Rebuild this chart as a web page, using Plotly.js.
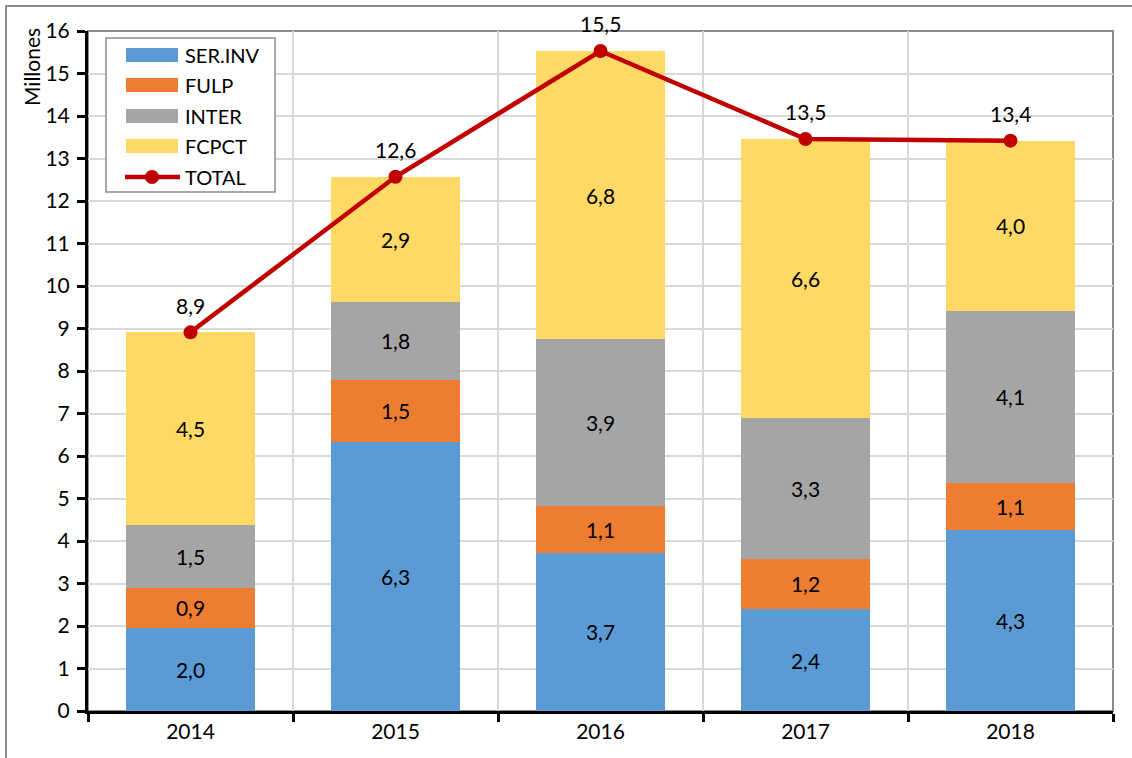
<!DOCTYPE html>
<html>
<head>
<meta charset="utf-8">
<script src="https://cdn.plot.ly/plotly-3.0.1.min.js"></script>
<style>
  html, body { margin: 0; padding: 0; background: #fff; overflow: hidden; }
  #wrap { position: relative; width: 1132px; height: 758px; }
  #chart { position: absolute; left: 0; top: 0; width: 1132px; height: 758px; }
  #frame { position: absolute; left: 5px; top: 5px; width: 1200px; height: 800px;
           border-left: 2px solid #8c8c8c; border-top: 2px solid #8c8c8c; pointer-events: none; }
</style>
</head>
<body>
<div id="wrap">
  <div id="chart"></div>
  <div id="frame"></div>
</div>
<script>
const years = ['2014', '2015', '2016', '2017', '2018'];
const serInv = [1.96, 6.34, 3.72, 2.40, 4.26];
const fulp   = [0.94, 1.46, 1.10, 1.18, 1.10];
const inter  = [1.47, 1.83, 3.93, 3.32, 4.06];
const fcpct  = [4.54, 2.94, 6.78, 6.56, 4.00];
const total  = years.map((_, i) => serInv[i] + fulp[i] + inter[i] + fcpct[i]);

const seriesNames = ['SER.INV', 'FULP', 'INTER', 'FCPCT'];
const seriesColors = ['#5B9BD5', '#ED7D31', '#A5A5A5', '#FFD966'];
const seriesData = [serInv, fulp, inter, fcpct];
const totalColor = '#C00000';

const FONT = 'Lato, Carlito, "Liberation Sans", sans-serif';
const FS = 21;
const W = 1132, H = 758;
const M = {l: 88, r: 19, t: 31, b: 47};
const PW = W - M.l - M.r, PH = H - M.t - M.b;
const px = x => (x - M.l) / PW;
const py = y => (H - M.b - y) / PH;

const traces = seriesData.map((vals, i) => ({
  type: 'bar',
  name: seriesNames[i],
  x: years,
  y: vals,
  marker: {color: seriesColors[i]},
  texttemplate: '%{y:.1f}',
  textposition: 'inside',
  insidetextanchor: 'middle',
  constraintext: 'none',
  textangle: 0,
  textfont: {family: FONT, size: FS, color: '#000'},
  hoverinfo: 'skip'
}));

traces.push({
  type: 'scatter',
  mode: 'lines+markers',
  name: 'TOTAL',
  x: years,
  y: total,
  line: {color: totalColor, width: 4.5},
  marker: {color: totalColor, size: 14},
  cliponaxis: false,
  hoverinfo: 'skip'
});

const shapes = [
  {type: 'rect', xref: 'paper', yref: 'paper', x0: 0, x1: 1, y0: 0, y1: 1,
   line: {color: '#8c8c8c', width: 2}, layer: 'below'},
  {type: 'rect', xref: 'paper', yref: 'paper', x0: px(106), x1: px(275), y0: py(192), y1: py(38),
   line: {color: '#8c8c8c', width: 1.5}, fillcolor: '#fff', layer: 'above'}
];
const annotations = [
  {text: 'Millones', xref: 'paper', yref: 'paper', x: px(31), y: py(26),
   xanchor: 'center', yanchor: 'top', textangle: -90, showarrow: false,
   font: {family: FONT, size: FS, color: '#000'}}
];
// total labels, placed through the data scales (category index on x)
years.forEach((yr, i) => {
  annotations.push({text: total[i].toFixed(1).replace('.', ','), x: i, y: total[i],
    xref: 'x', yref: 'y', showarrow: false, yshift: 27, yanchor: 'middle',
    font: {family: FONT, size: FS, color: '#000'}});
});
const rowY = [55, 85, 116, 146, 177];
seriesNames.forEach((n, i) => {
  shapes.push({type: 'rect', xref: 'paper', yref: 'paper',
    x0: px(126), x1: px(178), y0: py(rowY[i] + 7), y1: py(rowY[i] - 7),
    fillcolor: seriesColors[i], line: {width: 0}, layer: 'above'});
});
shapes.push({type: 'line', xref: 'paper', yref: 'paper',
  x0: px(125), x1: px(180), y0: py(rowY[4]), y1: py(rowY[4]),
  line: {color: totalColor, width: 4.5}, layer: 'above'});
shapes.push({type: 'circle', xref: 'paper', yref: 'paper',
  x0: px(145), x1: px(159), y0: py(rowY[4] + 7), y1: py(rowY[4] - 7),
  fillcolor: totalColor, line: {color: totalColor, width: 0}, layer: 'above'});
seriesNames.concat(['TOTAL']).forEach((n, i) => {
  annotations.push({text: n, xref: 'paper', yref: 'paper', x: px(183), y: py(rowY[i]),
    xanchor: 'left', yanchor: 'middle', showarrow: false,
    font: {family: FONT, size: 20, color: '#000'}});
});

const layout = {
  width: W, height: H,
  margin: M,
  paper_bgcolor: '#fff',
  plot_bgcolor: '#fff',
  barmode: 'stack',
  bargap: 0.375,
  separators: ', ',
  showlegend: false,
  font: {family: FONT, size: FS, color: '#000'},
  xaxis: {
    type: 'category',
    range: [-0.5, years.length - 0.5],
    tickson: 'boundaries',
    ticks: 'outside', ticklen: 8, tickwidth: 3, tickcolor: '#000',
    showline: true, linecolor: '#000', linewidth: 3,
    showgrid: true, gridcolor: '#D9D9D9', gridwidth: 2,
    tickangle: 0,
    tickfont: {family: FONT, size: FS, color: '#000'},
    fixedrange: true
  },
  yaxis: {
    range: [0, 16], dtick: 1,
    ticks: 'outside', ticklen: 8, tickwidth: 3, tickcolor: '#000',
    showline: true, linecolor: '#000', linewidth: 3,
    showgrid: true, gridcolor: '#D9D9D9', gridwidth: 2,
    zeroline: false,
    tickfont: {family: FONT, size: FS, color: '#000'},
    ticklabelstandoff: 3,
    fixedrange: true
  },
  shapes: shapes,
  annotations: annotations
};

Plotly.newPlot('chart', traces, layout, {displayModeBar: false, staticPlot: true});
</script>
</body>
</html>
